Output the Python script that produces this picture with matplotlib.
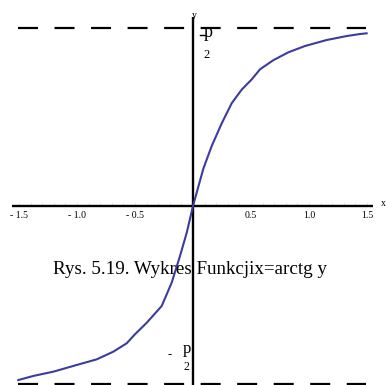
import numpy as np
import matplotlib
matplotlib.use("Agg")
import matplotlib.pyplot as plt

plt.rcParams['lines.scale_dashes'] = False

# curve points, x and y
curve_x = [-1.506, -1.377, -1.204, -1.003, -0.830, -0.687, -0.572, -0.500,
           -0.399, -0.270, -0.184, -0.112, -0.054, 0.0,
           0.089, 0.161, 0.247, 0.334, 0.420, 0.506, 0.578, 0.692,
           0.822, 0.966, 1.153, 1.325, 1.440, 1.497]
curve_y = [-1.540, -1.504, -1.466, -1.407, -1.357, -1.289, -1.215, -1.135,
           -1.033, -0.885, -0.679, -0.442, -0.236, 0.0,
           0.330, 0.530, 0.730, 0.910, 1.030, 1.120, 1.210, 1.290,
           1.360, 1.416, 1.469, 1.504, 1.522, 1.528]

tick_values = [-1.5, -1.0, -0.5, 0.5, 1.0, 1.5]
tick_labels = ['- 1.5', '- 1.0', '- 0.5', '0.5', '1.0', '1.5']
asymptote = np.pi / 2

serif = 'Liberation Serif'

fig = plt.figure(figsize=(3.86, 3.85), dpi=100)
ax = fig.add_axes([0, 0, 1, 1])
ax.set_xlim(-1.664, 1.664)
ax.set_ylim(-1.584, 1.823)
ax.axis('off')

# asymptotes
for yv in (asymptote, -asymptote):
    ax.plot([-1.509, 1.49], [yv, yv], color='black', lw=1.6,
            linestyle=(0, (14.4, 11.9)), solid_capstyle='butt')

# small ticks along the x axis
minor = [round(v, 1) for v in np.arange(-1.5, 1.51, 0.1) if abs(v) > 1e-9]
ax.vlines(minor, 0.005, 0.028, color='#cccccc', lw=0.5)

# axes
ax.plot([-1.56, 1.552], [0, 0], color='black', lw=1.7, solid_capstyle='butt')
ax.plot([0, 0], [1.673, -1.7], color='black', lw=1.7, solid_capstyle='butt')

ax.plot(curve_x, curve_y, color='#3c3c9c', lw=1.5)

for v, lab in zip(tick_values, tick_labels):
    ax.text(v, -0.109, lab, ha='center', va='baseline', fontsize=7, family=serif)

ax.text(0.009, 1.69, 'y', ha='center', va='center', fontsize=7, family=serif)
ax.text(1.62, 0.018, 'x', ha='left', va='center', fontsize=7, family=serif)

# pi/2 labels
ax.text(0.095, 1.496, 'p', ha='left', va='baseline', fontsize=13, family=serif)
ax.text(0.086, 1.310, '2', ha='left', va='baseline', fontsize=9, family=serif)
ax.plot([0.060, 0.116], [1.513, 1.513], color='black', lw=1.0)
ax.text(-0.198, -1.319, '-', ha='center', va='center', fontsize=9, family=serif)
ax.text(-0.086, -1.301, 'p', ha='left', va='baseline', fontsize=12, family=serif)
ax.text(-0.086, -1.451, '2', ha='left', va='baseline', fontsize=8.5, family=serif)

ax.text(-1.207, -0.604, 'Rys. 5.19. Wykres Funkcjix=arctg y', ha='left',
        va='baseline', fontsize=13.7, family=serif)

fig.savefig('out.png', dpi=100)
